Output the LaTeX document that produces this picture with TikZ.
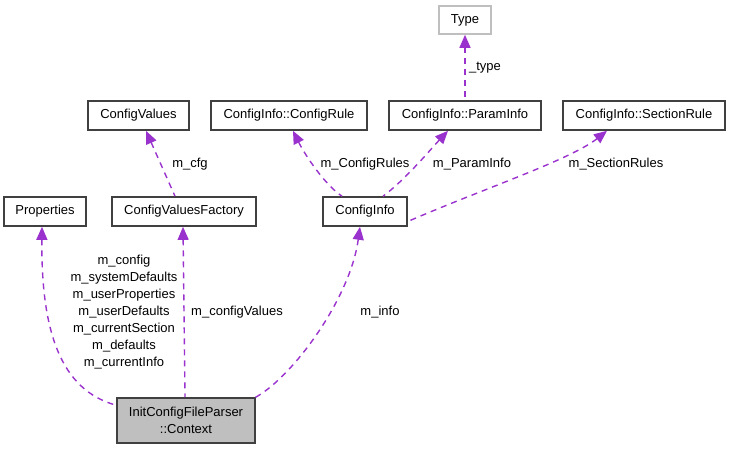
\documentclass[tikz,border=0pt]{standalone}
\usepackage{fontspec}
\setmainfont{Liberation Sans}
\usetikzlibrary{arrows.meta}
\definecolor{edgec}{HTML}{9A32CD}
\definecolor{boxc}{HTML}{404040}
\definecolor{lightc}{HTML}{BFBFBF}
\begin{document}
\begin{tikzpicture}[x=1pt,y=-1pt,
  font=\fontsize{13}{17}\selectfont,
  cls/.style={draw=boxc,line width=1.6pt,fill=white,minimum height=29pt,inner sep=0pt},
  rel/.style={draw=edgec,line width=1.4pt,dash pattern=on 6pt off 5pt,
    {Triangle[length=13pt,width=11pt,fill=edgec]}-},
  lbl/.style={inner sep=0pt,align=center}]
\useasboundingbox (0,0) rectangle (729,451);
% nodes
\node[cls,draw=lightc,minimum width=52pt,minimum height=28pt] (type) at (465,20) {Type};
\node[cls,minimum width=101pt] (cv) at (138.5,115.5) {ConfigValues};
\node[cls,minimum width=156pt] (cr) at (289,115.5) {ConfigInfo::ConfigRule};
\node[cls,minimum width=152pt] (pi) at (465,115.5) {ConfigInfo::ParamInfo};
\node[cls,minimum width=162pt] (sr) at (644,115.5) {ConfigInfo::SectionRule};
\node[cls,minimum width=82pt] (props) at (45,211.5) {Properties};
\node[cls,minimum width=144pt] (cvf) at (184,211.5) {ConfigValuesFactory};
\node[cls,minimum width=84pt] (ci) at (365,211.5) {ConfigInfo};
\node[cls,fill=lightc,minimum width=138pt,minimum height=45pt,align=center] (ctx) at (186,420.5) {InitConfigFileParser\\::Context};
% edges
\draw[rel] ([xshift=-3pt]props.south) .. controls (41,330) and (60,390) .. ([yshift=-8pt]ctx.north west);
\draw[rel] ([xshift=-1pt]cvf.south) -- ([xshift=-1pt]ctx.north);
\draw[rel] ([xshift=-5pt]ci.south) .. controls (350,300) and (290,380) .. ([xshift=-2pt,yshift=-1pt]ctx.north east);
\draw[rel] ([xshift=7.5pt]cv.south) -- ([xshift=-9pt]cvf.north);
\draw[rel] ([xshift=4pt]cr.south) .. controls (305,155) and (325,185) .. ([xshift=-23pt]ci.north);
\draw[rel] ([xshift=-17pt]pi.south) .. controls (430,150) and (405,180) .. ([xshift=18pt]ci.north);
\draw[rel] ([xshift=-37pt]sr.south) .. controls (570,160) and (480,190) .. ([yshift=-10pt]ci.east);
\draw[rel] (type.south) -- (pi.north);
% labels
\node[lbl] (lcfg) at (190,164) {m\_cfg};
\node[lbl] (lcr) at (365,164) {m\_ConfigRules};
\node[lbl] (lpi) at (472,164) {m\_ParamInfo};
\node[lbl] (lsr) at (616,164) {m\_SectionRules};
\node[lbl] (ltype) at (485,68) {\_type};
\node[lbl] (lprops) at (124,312.5) {m\_config\\m\_systemDefaults\\m\_userProperties\\m\_userDefaults\\m\_currentSection\\m\_defaults\\m\_currentInfo};
\node[lbl] (lcvf) at (237,312) {m\_configValues};
\node[lbl] (lci) at (380,312) {m\_info};
\end{tikzpicture}
\end{document}
